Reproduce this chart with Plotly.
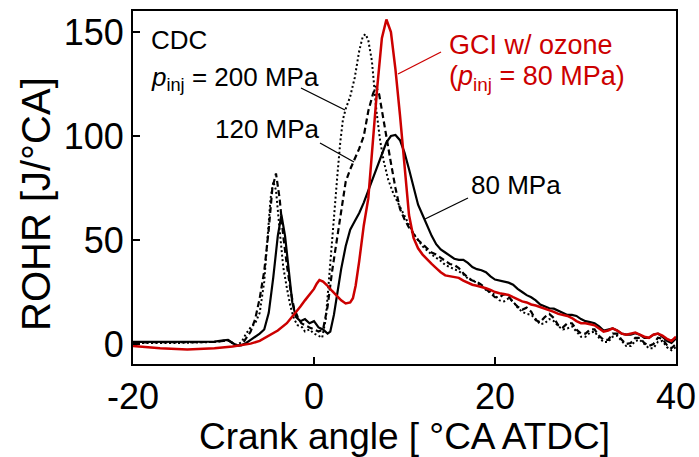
import plotly.graph_objects as go

# ---------------- data ----------------
x_80 = [-20, -15, -11, -10, -9.5, -9, -8.5, -8, -7.5, -7, -6.5, -6, -5.5, -5, -4.5, -4, -3.6, -3.2, -2.8,
        -2.4, -2, -1.5, -1, -0.5, 0, 0.5, 1, 1.5, 1.8, 2.2, 2.6, 3, 3.5, 4, 4.5, 5, 5.5, 6, 6.5, 7, 7.5,
        8, 8.5, 9, 9.5, 10, 10.5, 11, 11.5, 12, 12.5, 13, 13.5, 14, 14.5, 15, 15.5, 16, 16.5, 17, 17.5,
        18, 18.5, 19, 19.5, 20, 20.5, 21, 21.5, 22, 22.5, 23, 23.5, 24, 24.5, 25, 25.5, 26, 26.5, 27,
        27.5, 28, 28.5, 29, 29.5, 30, 30.5, 31, 31.5, 32, 32.5, 33, 33.5, 34, 34.5, 35, 35.5, 36, 36.5,
        37, 37.5, 38, 38.5, 39, 39.5, 40]
y_80 = [1, 1, 1.2, 1.8, 2, 0.5, -0.8, -0.5, 0.5, 2, 3.5, 5, 7, 15, 32, 52, 62, 52, 36,
        20, 13, 11, 12, 10, 11, 8, 7, 5, 6, 14, 25, 36, 47, 55, 59, 63, 68, 74, 80, 86, 92,
        97, 100, 100.5, 98, 92, 84, 75, 67, 62, 57, 52, 48, 45.5, 44, 42.5, 41, 40.5, 40.5, 39, 37,
        36, 35.5, 34.5, 32.5, 31, 30.5, 30, 29.5, 28.5, 26.5, 25, 23.5, 22.5, 21, 19, 18, 17.2, 17, 16,
        15, 14, 14, 13.5, 12, 11, 10.5, 10, 8.5, 6.5, 7, 7.5, 6.5, 5, 4.5, 4.5, 5.2, 4.5, 3,
        3, 4.5, 5, 3.5, 1.5, 0.5, 2.7]

x_120 = [-20, -15, -11, -10, -9.5, -9, -8.5, -8, -7.5, -7, -6.5, -6, -5.5, -5, -4.6, -4.2, -3.8, -3.4,
         -3, -2.6, -2.2, -1.8, -1.4, -1, -0.5, 0, 0.5, 1, 1.5, 2, 2.5, 3, 3.5, 4, 4.5, 5, 5.5, 6, 6.5,
         6.85, 7.2, 7.5, 8, 8.5, 9, 9.5, 10, 10.5, 11, 11.5, 12, 12.5, 13, 13.5, 14, 14.5, 15, 15.5, 16,
         16.5, 17, 17.5, 18, 18.5, 19, 19.5, 20, 20.5, 21, 21.5, 22, 22.5, 23, 23.5, 24, 24.5, 25, 25.5,
         26, 26.5, 27, 27.5, 28, 28.5, 29, 29.5, 30, 30.5, 31, 31.5, 32, 32.5, 33, 33.5, 34, 34.5, 35,
         35.5, 36, 36.5, 37, 37.5, 38, 38.5, 39, 39.5, 40]
y_120 = [0.8, 0.8, 1, 1.5, 1.8, 0.5, -0.8, -0.5, 3, 6, 12, 22, 35, 55, 75, 82, 70, 52,
         38, 26, 17, 13, 10, 9, 8, 7, 6, 7, 18, 35, 50, 63, 78, 84, 89, 94, 100, 112, 120,
         124, 120, 112, 100, 87, 75, 65, 60, 56, 53, 50, 48, 46, 44, 43, 41.5, 40, 38.5, 38, 36.5,
         34, 32, 30.5, 30, 28.5, 26.5, 24.5, 22.5, 22.5, 24, 23, 20, 18, 16.5, 17.5, 15.5, 11.5, 10.5, 13,
         14.5, 12.5, 9, 8, 10, 10, 7, 5, 5, 7, 7, 4, 2, 2, 5, 5, 2, 0, 0.5,
         3, 3, 0.5, -1, 0, 3, 2.5, -0.5, -2, 0]

x_200 = [-20, -15, -11, -10, -9.5, -9, -8.5, -8, -7.5, -7, -6.5, -6, -5.5, -5.1, -4.8, -4.5, -4.2, -3.8,
         -3.4, -3, -2.6, -2.2, -1.8, -1.3, -1, -0.5, 0, 0.5, 0.9, 1.3, 1.7, 2, 2.3, 2.6, 2.9, 3.2, 3.5,
         4, 4.5, 5, 5.4, 5.7, 6, 6.4, 6.9, 7.3, 7.7, 8.2, 8.8, 9.5, 10, 10.5, 11, 11.5, 12, 12.5, 13,
         13.5, 14, 14.5, 15, 15.5, 16, 16.5, 17, 17.5, 18, 18.5, 19, 19.5, 20, 20.5, 21, 21.5, 22, 22.5,
         23, 23.5, 24, 24.5, 25, 25.5, 26, 26.5, 27, 27.5, 28, 28.5, 29, 29.5, 30, 30.5, 31, 31.5, 32,
         32.5, 33, 33.5, 34, 34.5, 35, 35.5, 36, 36.5, 37, 37.5, 38, 38.5, 39, 39.5, 40]
y_200 = [0.5, 0.5, 1, 1.5, 1.8, 0.5, -0.5, 1, 5, 8, 10, 15, 30, 53, 70, 78, 74, 55,
         37, 27, 18, 12, 9, 8, 6, 7, 5, 4, 3, 12, 35, 52, 66, 82, 97, 108, 113,
         119, 128, 141, 148, 149, 146, 136, 112, 98, 88, 79, 72, 66, 61, 57, 53, 50, 47, 45, 43,
         41.5, 40, 38, 37, 36, 35, 33.5, 31.5, 30.5, 29.5, 28, 26, 25, 23.5, 21, 20.5, 22, 20.5, 17.5,
         15.5, 14.5, 14, 12, 9.5, 10, 12, 11, 8.5, 7, 7.5, 8.5, 6, 3.5, 3.5, 5.5, 6, 3, 1,
         1, 3.5, 4, 1.5, -1, -1, 1.5, 2, 0, -2, -2, 1, 1.5, -1.5, -3, -1.5]

x_gci = [-20, -17, -14, -11, -9, -8, -7, -6, -5, -4, -3, -2.5, -2, -1.5, -1, -0.5, 0, 0.3, 0.6, 1, 1.5,
         2, 2.5, 3, 3.5, 4, 4.3, 4.6, 5, 5.5, 6, 6.5, 7, 7.5, 8, 8.5, 9, 9.5, 10, 10.5, 11, 11.5, 12,
         12.5, 13, 13.5, 14, 14.5, 15, 15.5, 16, 16.5, 17, 17.5, 18, 18.5, 19, 19.5, 20, 20.5, 21, 21.5,
         22, 22.5, 23, 23.5, 24, 24.5, 25, 25.5, 26, 26.5, 27, 27.5, 28, 28.5, 29, 29.5, 30, 30.5, 31,
         31.5, 32, 32.5, 33, 33.5, 34, 34.5, 35, 35.5, 36, 36.5, 37, 37.5, 38, 38.5, 39, 39.5, 40]
y_gci = [-1, -2, -2.6, -2, -1.2, -0.5, 0.2, 1.5, 4, 6.5, 10, 12.5, 15, 18, 21, 24, 26.5, 29, 30.8, 30, 28,
         25.5, 23, 21, 19.5, 20, 22, 28, 40, 57, 70, 98, 124, 147, 156, 150, 132, 110, 85, 62, 51, 46, 43,
         40.5, 38.5, 36.5, 34.5, 33, 32.5, 32.3, 31.8, 30.5, 29.5, 28.5, 28, 27.5, 26.8, 26, 25, 24.4, 24, 23.6,
         22.5, 21.3, 20.5, 20, 19, 18.5, 17.8, 17.2, 16.5, 15.5, 14.5, 14, 13.5, 12.5, 11, 10, 10, 9.5, 9,
         7.5, 6, 6.5, 7.5, 6.5, 5, 4.5, 5, 5.5, 4.5, 3.5, 3, 4.5, 5, 4, 2.5, 1.5, 3.5]

x_ticks = [-20, 0, 20, 40]
y_ticks = [0, 50, 100, 150]

# ---------------- geometry helpers (pixel -> data / paper) ----------------
W, H = 699, 457
X0, X1, PX0, PX1 = -20, 40, 133, 676
Y0, Y1, PY0, PY1 = -9.6, 160.1, 364, 11


def dx(px):
    return X0 + (px - PX0) * (X1 - X0) / (PX1 - PX0)


def dy(py):
    return Y0 + (py - PY0) * (Y1 - Y0) / (PY1 - PY0)


def paper_x(px):
    return (px - PX0) / (PX1 - PX0)


def paper_y(py):
    return (PY0 - py) / (PY0 - PY1)


FONT = "Liberation Sans, Arial, sans-serif"
RED = "#CC0000"

fig = go.Figure()
fig.add_trace(go.Scatter(x=x_200, y=y_200, mode="lines", name="200 MPa",
                         line=dict(color="black", width=2, dash="2px,2.5px")))
fig.add_trace(go.Scatter(x=x_120, y=y_120, mode="lines", name="120 MPa",
                         line=dict(color="black", width=2.2, dash="6px,3.5px")))
fig.add_trace(go.Scatter(x=x_80, y=y_80, mode="lines", name="80 MPa",
                         line=dict(color="black", width=2.2)))
fig.add_trace(go.Scatter(x=x_gci, y=y_gci, mode="lines", name="GCI w/ ozone",
                         line=dict(color=RED, width=2.5)))

# leader lines
leaders = [
    ((301, 88), (345, 110), "black"),
    ((320, 143), (354, 162), "black"),
    ((441, 52), (398, 74), RED),
    ((468, 198), (425, 219), "black"),
]
for (p0, p1, c) in leaders:
    fig.add_shape(type="line", xref="x", yref="y", x0=dx(p0[0]), y0=dy(p0[1]),
                  x1=dx(p1[0]), y1=dy(p1[1]), line=dict(color=c, width=1.3))

texts = [
    ("CDC", 149, 40, "left", "black", 26),
    ("<i>p</i><sub>inj</sub> = 200 MPa", 149, 78, "left", "black", 26),
    ("120 MPa", 322, 129, "right", "black", 26),
    ("80 MPa", 469, 185, "left", "black", 26),
    ("GCI w/ ozone", 447, 45, "left", RED, 27),
    ("(<i>p</i><sub>inj</sub> = 80 MPa)", 447, 78, "left", RED, 27),
]
for (t, px, py, anc, c, fs) in texts:
    fig.add_annotation(x=dx(px), y=dy(py), xref="x", yref="y", text=t, showarrow=False,
                       xanchor=anc, yanchor="middle", font=dict(family=FONT, size=fs, color=c))

# y-axis title (placed as rotated text to match the reference position)
fig.add_annotation(x=paper_x(36), y=paper_y(204), xref="paper", yref="paper",
                   text="ROHR [J/°CA]", textangle=-90, showarrow=False,
                   xanchor="center", yanchor="middle",
                   font=dict(family=FONT, size=40, color="black"))

axis_common = dict(showline=True, linecolor="black", linewidth=2, mirror=True,
                   ticks="inside", ticklen=7, tickwidth=1.5, tickcolor="black",
                   showgrid=False, zeroline=False,
                   tickfont=dict(family=FONT, size=36, color="black"))

fig.update_xaxes(range=[X0, X1], tickvals=x_ticks, ticktext=[str(v) for v in x_ticks],
                 title=dict(text="Crank angle [ °CA ATDC]", font=dict(family=FONT, size=37, color="black"),
                            standoff=8),
                 **axis_common)
fig.update_yaxes(range=[Y0, Y1], tickvals=y_ticks, ticktext=[str(v) for v in y_ticks],
                 **axis_common)

fig.update_layout(width=W, height=H, margin=dict(l=133, r=23, t=11, b=93, autoexpand=False),
                  plot_bgcolor="white", paper_bgcolor="white", showlegend=False)

fig.write_html("out.html")
